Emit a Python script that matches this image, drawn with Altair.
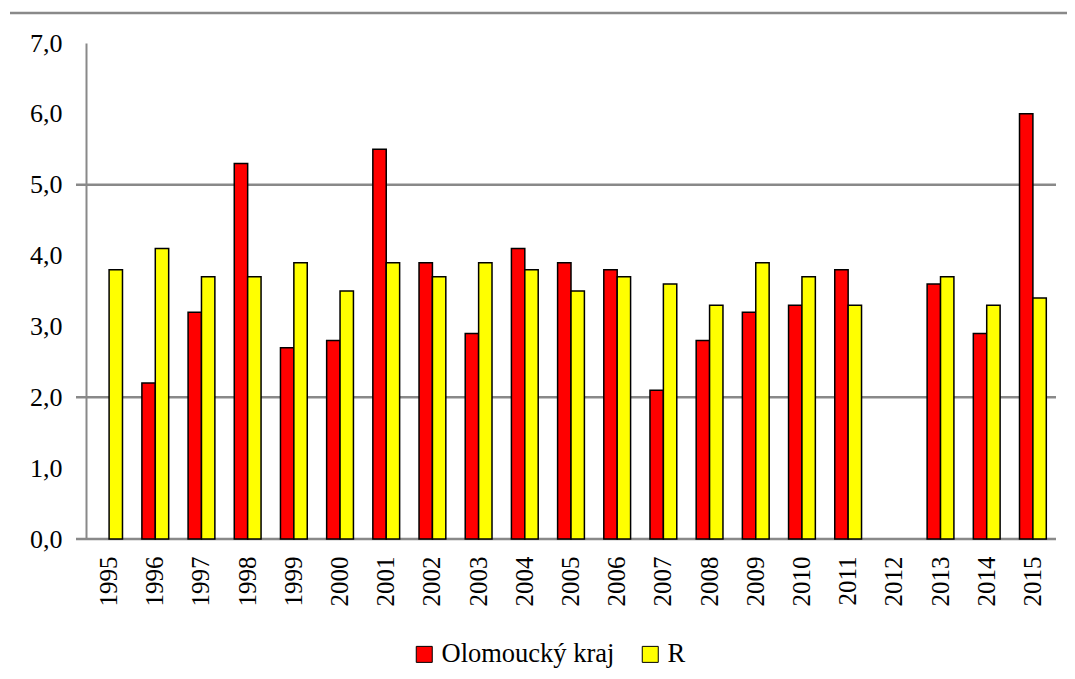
import altair as alt
import pandas as pd

years = [str(y) for y in range(1995, 2016)]
olomoucky = [None, 2.2, 3.2, 5.3, 2.7, 2.8, 5.5, 3.9, 2.9, 4.1, 3.9, 3.8, 2.1, 2.8, 3.2, 3.3, 3.8, None, 3.6, 2.9, 6.0]
cr = [3.8, 4.1, 3.7, 3.7, 3.9, 3.5, 3.9, 3.7, 3.9, 3.8, 3.5, 3.7, 3.6, 3.3, 3.9, 3.7, 3.3, None, 3.7, 3.3, 3.4]
series = ["Olomoucký kraj", "R"]
colors = ["#FF0000", "#FFFF00"]
grid_values = [0, 2, 5]

rows = []
for i, y in enumerate(years):
    for s, vals in zip(series, [olomoucky, cr]):
        if vals[i] is not None:
            rows.append({"rok": y, "rada": s, "hodnota": vals[i]})
df = pd.DataFrame(rows)

W, H = 970, 496
FONT = "Liberation Serif"
GRAY = "#898989"

bars = alt.Chart(df).mark_bar(stroke="black", strokeWidth=1.5).encode(
    x=alt.X("rok:N", scale=alt.Scale(domain=years, paddingInner=0.42, paddingOuter=0.21),
            axis=alt.Axis(title=None, labelAngle=270, labelAlign="right", labelBaseline="middle",
                          labelFontSize=25, labelFont=FONT, labelColor="black", labelPadding=17,
                          ticks=False, domain=False, grid=False)),
    xOffset=alt.XOffset("rada:N", scale=alt.Scale(domain=series)),
    y=alt.Y("hodnota:Q", scale=alt.Scale(domain=[0, 7]),
            axis=alt.Axis(title=None, values=[0, 1, 2, 3, 4, 5, 6, 7],
                          labelExpr="replace(format(datum.value, '.1f'), '.', ',')",
                          labelFontSize=26, labelFont=FONT, labelColor="black", labelPadding=24,
                          ticks=False, grid=False, domainColor=GRAY, domainWidth=2)),
    color=alt.Color("rada:N", scale=alt.Scale(domain=series, range=colors),
                    legend=alt.Legend(title=None, orient="none", direction="horizontal",
                                      legendX=325, legendY=598, symbolType="square", symbolSize=256,
                                      symbolStrokeColor="black", symbolStrokeWidth=1,
                                      labelFontSize=26.5, labelFont=FONT, labelColor="black",
                                      labelLimit=0, labelOffset=4, columnPadding=22, padding=0,
                                      labelExpr="datum.label == 'R' ? '\u00a0\u00a0\u00a0\u00a0R' : datum.label")),
)

grid = alt.Chart(pd.DataFrame({"v": grid_values})).mark_rule(color=GRAY, strokeWidth=2.5).encode(
    y=alt.Y("v:Q", scale=alt.Scale(domain=[0, 7])),
    x=alt.value(-10),
    x2=alt.value(W),
)

top_line = alt.Chart(pd.DataFrame({"a": [0]})).mark_rule(color=GRAY, strokeWidth=2.5).encode(
    x=alt.value(-76), x2=alt.value(W + 11), y=alt.value(-30),
)

chart = alt.layer(grid, bars, top_line).properties(
    width=W, height=H,
    background="white",
    autosize=alt.AutoSizeParams(type="none"),
    padding={"left": 78, "top": 35, "right": 11, "bottom": 130},
).configure(font=FONT).configure_view(strokeWidth=0, stroke=None)

chart.save("out.html", embed_options={"renderer": "svg", "actions": False})
